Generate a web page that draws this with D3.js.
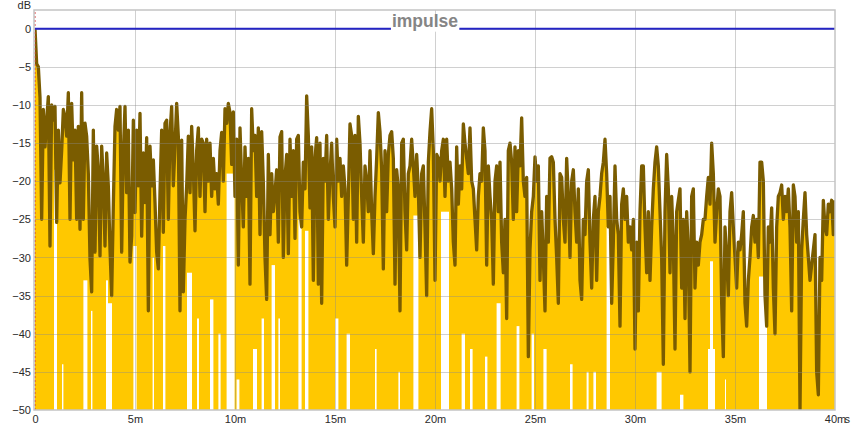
<!DOCTYPE html>
<html><head><meta charset="utf-8">
<script src="https://cdn.jsdelivr.net/npm/d3@7"></script>
<style>body{margin:0;background:#fff} text{font-family:"Liberation Sans",Arial,sans-serif}</style>
</head><body><svg id="c" width="851" height="428"></svg>
<script>
// ---- data ----
const sampleStepMs = 1 / 12;   // time between envelope samples
const env0to8 = [0,-4.6,-5,-9,-25,-10.6,-15.5,-12,-8.9,-28.5,-10,-12,-10.2,-25.4,-13.3,-20.2,-16,-10.6,-11.5,-14.1,
  -8.4,-25,-9.8,-17.2,-13.3,-25,-12.8,-26.3,-8.4,-25,-12.4,-14.1,-19,-30.2,-34.5,-13.3,-29.3,-15.4,-18.5,-29.8,
  -15.4,-19.8,-28.5,-16.3,-20.6,-28.9,-35,-23.2,-12.8,-10.6,-13.3,-10.2,-29.3,-16.3,-10.2,-21.5,-13.3,-30.6,-27.2,-12,
  -24.1,-13.3,-20.6,-11.1,-27.2,-16.3,-22.8,-14.3,-37,-15.4,-20.6,-17.2,-22.8,-29.3,-31.5,-21.5,-13.3,-26.7,-12.4,-12,
  -25,-13.7,-10.2,-20.6,-15.4,-9.8,-14.1,-37,-14.6,-34.5,-25,-20.6,-14.1,-21.5,-12.8,-18.5];
const env8to16 = [-26.5,-16,-13,-22,-14.5,-15,-24,-14.5,-20,-15,-22,-17,-21,-19,-23,-16,-13.6,-20,-10.5,-12.4,
  -9.8,-11,-17.8,-10.9,-22,-14.5,-31,-13,-20,-26,-15.5,-22,-17,-33.5,-10.5,-16,-14,-22,-13,-27,
  -13.5,-20,-30,-35.5,-16.5,-27,-19,-24,-21.5,-18.5,-28,-14.2,-13.5,-30,-19.5,-16.5,-29.5,-14.5,-22,-16,
  -27.5,-14.5,-14,-24,-26,-17.5,-21,-8.8,-14,-23.5,-15.5,-33,-17,-14.3,-33.5,-15,-36,-17,-20,-14,
  -25,-19,-15,-22,-26,-14.5,-20,-17,-22,-18,-21,-31,-22,-12.5,-14,-25];
const env16to24 = [-14,-28,-11.5,-15,-22,-28,-18,-20,-24,-16,-24,-29.5,-22,-17,-11,-13.5,-18.5,-31.5,-16,-24,
  -16.5,-14,-13.5,-17,-33.5,-18.5,-21,-37,-15,-14.5,-24,-29,-19,-18,-14.5,-18,-22,-16.5,-21,-30,
  -19,-18,-26,-35,-17.5,-13.5,-10.5,-16,-33,-16.5,-17,-20,-16,-14.5,-22,-14.5,-20,-17.5,-21,-28,
  -31,-15.5,-23,-18,-21,-12.5,-15,-17,-19,-13,-20,-21,-25,-29,-22,-19,-20,-13,-16,-31,
  -18,-22,-25,-33.5,-20,-18,-24,-17.5,-28,-32,-25,-38,-16,-15,-17.5,-25];
const env24to32 = [-15.5,-24,-16,-18,-11.7,-20,-22,-19.5,-43,-29,-24,-22,-16.8,-20,-18,-33,-24,-30,-37,-22,
  -28,-17,-16.8,-17.5,-25,-30,-36,-19,-19.5,-25,-28,-17,-22,-30,-20,-18.5,-24,-28,-21,-33,
  -35.5,-25,-27,-20,-18.5,-28,-34,-25,-22,-33,-24,-22,-19,-17.5,-14.5,-19,-26,-22,-36,-28,
  -18,-25,-27,-39,-23,-21,-25,-22,-28,-26,-29,-25,-42,-28,-37,-24,-18,-18,-26,-32,
  -24,-33,-26,-21,-17.5,-15.5,-18,-24,-30,-44,-24,-16.5,-21,-32,-22,-28];
const env32to40 = [-42,-24,-22.5,-21,-34,-25,-38,-24,-29,-45,-22,-21,-34,-28,-31,-28,-27,-25,-25,-22,
  -19.5,-23,-15,-19,-28,-24,-21,-22,-36,-43,-26,-30,-35,-24,-21.5,-26,-30,-34,-28,-29,
  -27,-24,-36,-39,-33,-30,-26,-24.5,-28,-25,-30,-17.5,-17.5,-20,-35,-39,-26,-28,-23.5,-34,
  -40,-26,-22,-21.5,-20.5,-25,-22,-24,-21,-26,-37,-20.5,-22,-28,-24,-50,-29,-25,-21.5,-27,
  -30,-33,-31,-29,-27,-45,-48,-30,-33,-22.5,-26,-27,-23,-24,-22.5,-27,-22.5];
// stretches where the impulse stays above a level: [start ms, end ms, lowest dB]
const whiteGaps = [
  [0.95,1.1,-18.5],[1.35,1.42,-44],[2.42,2.62,-33],[2.8,2.87,-37],[3.55,3.65,-33],[3.65,3.85,-36],
  [4.92,5.08,-28.5],[5.88,5.95,-30],[6.4,6.52,-28.5],[7.6,7.85,-32],
  [8.1,8.2,-38],[8.75,8.92,-35.5],[9.17,9.28,-40],[9.58,9.98,-19],[10.08,10.22,-46],[10.9,11.1,-42],
  [11.33,11.45,-38],[11.83,12.0,-31],[12.17,12.25,-38],[13.17,13.33,-25],[13.5,13.67,-26.5],
  [15.0,15.17,-38],[15.58,15.75,-40],
  [17.0,17.08,-42],[18.17,18.25,-45],[18.92,19.17,-24.5],[20.3,20.7,-24],[21.33,21.5,-40],
  [21.75,21.88,-42],[22.5,22.62,-43],[23.08,23.28,-36],
  [24.08,24.22,-39],[24.83,24.95,-40],[25.42,25.58,-42],[26.75,26.88,-44],[27.58,27.68,-45],
  [27.92,28.05,-45],[28.58,28.75,-26],[31.08,31.33,-45],
  [32.25,32.42,-48],[33.65,34.0,-42],[33.75,33.9,-30.5],[34.5,34.55,-46],[36.2,36.6,-32.5]
];
const yTicks = [0,-5,-10,-15,-20,-25,-30,-35,-40,-45,-50];
const xTicks = [0,5,10,15,20,25,30,35,40];
const xTickLabels = ["0","5m","10m","15m","20m","25m","30m","35m","40m"];
const xUnit = "s";
const yUnit = "dB";
const referenceLevelDb = 0;
const titleText = "impulse";

// ---- build ----
const envelopeDb = [].concat(env0to8, env8to16, env16to24, env24to32, env32to40);
const pts = envelopeDb.map((v, i) => ({t: i * sampleStepMs, v}));

const svg = d3.select("#c");
const L = 35, R = 835, T = 10, B = 410;
const x = d3.scaleLinear().domain([0, 40]).range([L, R]);
const y = d3.scaleLinear().domain([-50, 2.45]).range([B, T]);
const font = '"Liberation Sans",Arial,sans-serif';

svg.append("rect").attr("width", 851).attr("height", 428).attr("fill", "#fff");
svg.append("defs").append("clipPath").attr("id", "clip")
  .append("rect").attr("x", L).attr("y", T).attr("width", R - L).attr("height", B - T);
const plot = svg.append("g").attr("clip-path", "url(#clip)");

// yellow impulse fill
plot.append("path").datum(pts)
  .attr("fill", "#ffc800")
  .attr("d", d3.area().x(d => x(d.t)).y0(y(-50)).y1(d => y(d.v)));

// white stretches where impulse does not reach down
plot.selectAll("rect.gap").data(whiteGaps).join("rect")
  .attr("class", "gap")
  .attr("x", d => x(d[0])).attr("width", d => x(d[1]) - x(d[0]))
  .attr("y", d => y(d[2])).attr("height", d => y(-50) - y(d[2]))
  .attr("fill", "#fff");

// grid
const grid = svg.append("g").attr("stroke", "#8a8a8a").attr("stroke-opacity", 0.4).attr("stroke-width", 1);
grid.selectAll("line.h").data(yTicks.filter(v => v > -50)).join("line")
  .attr("x1", L).attr("x2", R).attr("y1", d => Math.round(y(d)) + 0.5).attr("y2", d => Math.round(y(d)) + 0.5);
grid.selectAll("line.v").data(xTicks.filter(v => v > 0 && v < 40)).join("line")
  .attr("y1", T).attr("y2", B).attr("x1", d => Math.round(x(d)) + 0.5).attr("x2", d => Math.round(x(d)) + 0.5);

// t=0 marker
svg.append("line").attr("x1", x(0)).attr("x2", x(0)).attr("y1", T + 2).attr("y2", B)
  .attr("stroke", "#d83a3a").attr("stroke-width", 1).attr("stroke-dasharray", "2,2");

// envelope line
plot.append("path").datum(pts)
  .attr("fill", "none").attr("stroke", "#7a5c00").attr("stroke-width", 3.3)
  .attr("stroke-linejoin", "round")
  .attr("d", d3.line().x(d => x(d.t)).y(d => y(d.v)));

// 0 dB reference line
svg.append("line").attr("x1", x(0)).attr("x2", x(40))
  .attr("y1", y(referenceLevelDb)).attr("y2", y(referenceLevelDb))
  .attr("stroke", "#2424c4").attr("stroke-width", 2);

// frame
svg.append("rect").attr("x", L - 1).attr("y", T).attr("width", R - L + 1).attr("height", B - T)
  .attr("fill", "none").attr("stroke", "#c4c4c4").attr("stroke-width", 1.5);

// axes labels
const yAxis = svg.append("g").attr("transform", `translate(${L},0)`)
  .call(d3.axisLeft(y).tickValues(yTicks).tickSize(0).tickPadding(4).tickFormat(d3.format("d")));
yAxis.select(".domain").remove();
yAxis.selectAll("text").attr("font-size", 11).attr("fill", "#2a2a2a").attr("font-family", font);

const xAxis = svg.append("g").attr("transform", `translate(0,${B})`)
  .call(d3.axisBottom(x).tickValues(xTicks).tickSize(0).tickPadding(5).tickFormat((d, i) => xTickLabels[i]));
xAxis.select(".domain").remove();
xAxis.selectAll("text").attr("font-size", 11).attr("fill", "#2a2a2a").attr("font-family", font);

svg.append("text").attr("x", 844.5).attr("y", 423).attr("font-size", 11).attr("fill", "#2a2a2a").text(xUnit);
svg.append("text").attr("x", 31).attr("y", 9).attr("text-anchor", "end")
  .attr("font-size", 11).attr("fill", "#2a2a2a").text(yUnit);

// title with white backing over the reference line
const titleG = svg.append("g");
const bgRect = titleG.append("rect").attr("fill", "#fff");
const tt = titleG.append("text").attr("x", 425).attr("y", 27).attr("text-anchor", "middle")
  .attr("font-size", 17.5).attr("font-weight", "bold").attr("fill", "#858585").text(titleText);
const bb = tt.node().getBBox();
bgRect.attr("x", bb.x - 1).attr("y", y(0) - 3).attr("width", bb.width + 2).attr("height", 6);
</script></body></html>
